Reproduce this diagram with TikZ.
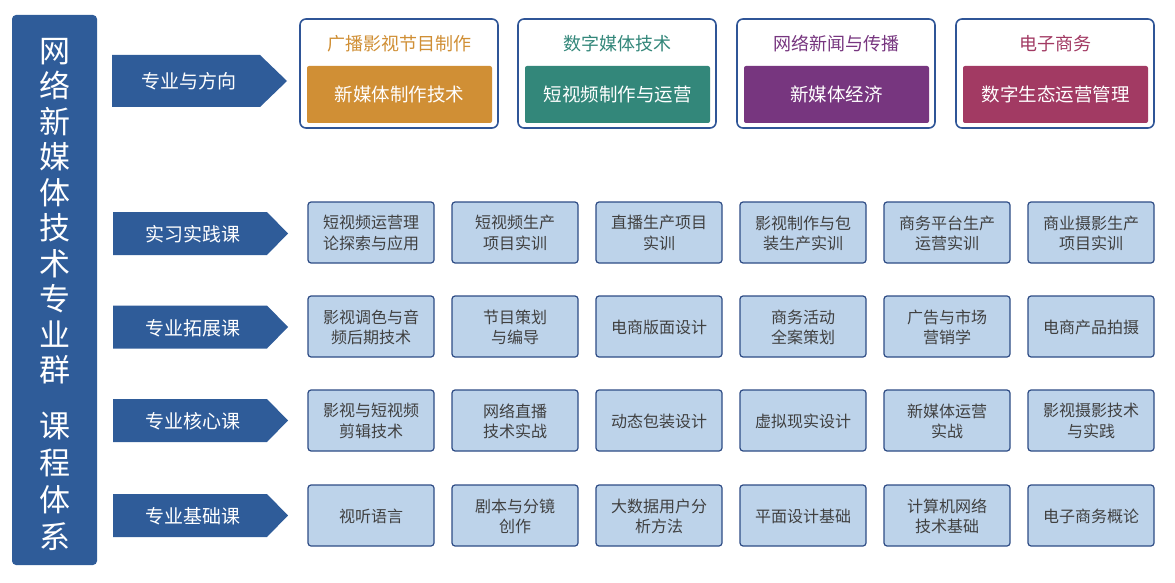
\documentclass[tikz,border=0pt]{standalone}
\usepackage{fontspec}
\setmainfont{Noto Sans CJK SC}
\definecolor{navy}{HTML}{2F5C99}
\definecolor{boxline}{HTML}{2F5597}
\definecolor{cfill}{HTML}{BDD3EA}
\definecolor{cline}{HTML}{2E4C85}
\definecolor{ctext}{HTML}{404040}
\definecolor{corange}{HTML}{D08F35}
\definecolor{cteal}{HTML}{33877A}
\definecolor{cpurple}{HTML}{77367F}
\definecolor{ccrimson}{HTML}{A23A63}
\tikzset{
  course/.style={draw=cline, line width=1.2pt, fill=cfill, rounded corners=3pt,
    minimum width=126pt, minimum height=61pt, align=center, text=ctext,
    font=\fontsize{16}{20.5}\selectfont, inner sep=0pt, text depth=0pt},
  outerbox/.style={draw=boxline, line width=1.6pt, fill=white, rounded corners=6pt,
    minimum width=198pt, minimum height=109pt, inner sep=0pt},
  innerbox/.style={rounded corners=2pt, minimum width=185pt, minimum height=57pt,
    text=white, font=\fontsize{18.5}{22}\selectfont, inner sep=0pt},
  titletext/.style={font=\fontsize{18}{22}\selectfont, inner sep=0pt},
  arrowlbl/.style={text=white, font=\fontsize{19}{22}\selectfont, inner sep=0pt},
  sidetext/.style={text=white, align=center, inner sep=0pt}
}
\begin{document}
\begin{tikzpicture}[x=1pt,y=-1pt]
\useasboundingbox (0,0) rectangle (1175,583);
% sidebar
\node[fill=navy, rounded corners=4pt, minimum width=85pt, minimum height=550pt, inner sep=0pt] (side) at (54.5,290) {};
\node[sidetext, font=\fontsize{31}{35.5}\selectfont, anchor=north] (sideA) at (54.5,38) {网\\络\\新\\媒\\体\\技\\术\\专\\业\\群};
\node[sidetext, font=\fontsize{31}{37}\selectfont, anchor=north] (sideB) at (54.5,412) {课\\程\\体\\系};
% top arrow
\fill[navy] (112,55) -- (260,55) -- (287,81) -- (260,107) -- (112,107) -- cycle;
\node[arrowlbl] (a0) at (189,81) {专业与方向};
% row arrows
\foreach \yy/\nm/\lbl in {233.5/a1/实习实践课, 327/a2/专业拓展课, 420.5/a3/专业核心课, 515.5/a4/专业基础课}{
  \fill[navy] (113,\yy-21.5) -- (267,\yy-21.5) -- (288,\yy) -- (267,\yy+21.5) -- (113,\yy+21.5) -- cycle;
  \node[arrowlbl] (\nm) at (193,\yy+1) {\lbl};
}
% top boxes
\foreach \xx/\nm/\col/\ttl/\inn in {
  399/m1/corange/广播影视节目制作/新媒体制作技术,
  617/m2/cteal/数字媒体技术/短视频制作与运营,
  836/m3/cpurple/网络新闻与传播/新媒体经济,
  1055/m4/ccrimson/电子商务/数字生态运营管理}{
  \node[outerbox] (\nm) at (\xx,73.5) {};
  \node[titletext, text=\col] (\nm t) at (\xx,43.5) {\ttl};
  \node[innerbox, fill=\col] (\nm i) at (\xx+0.5,94.5) {\inn};
}
% course boxes
\foreach \yy/\r/\la/\lb/\lc/\ld/\le/\lf in {
  232.5/1/{短视频运营理\\论探索与应用}/{短视频生产\\项目实训}/{直播生产项目\\实训}/{影视制作与包\\装生产实训}/{商务平台生产\\运营实训}/{商业摄影生产\\项目实训},
  326.5/2/{影视调色与音\\频后期技术}/{节目策划\\与编导}/{电商版面设计}/{商务活动\\全案策划}/{广告与市场\\营销学}/{电商产品拍摄},
  420.5/3/{影视与短视频\\剪辑技术}/{网络直播\\技术实战}/{动态包装设计}/{虚拟现实设计}/{新媒体运营\\实战}/{影视摄影技术\\与实践},
  515.5/4/{视听语言}/{剧本与分镜\\创作}/{大数据用户分\\析方法}/{平面设计基础}/{计算机网络\\技术基础}/{电子商务概论}}{
  \node[course] (c\r a) at (371,\yy) {\la};
  \node[course] (c\r b) at (515,\yy) {\lb};
  \node[course] (c\r c) at (659,\yy) {\lc};
  \node[course] (c\r d) at (803,\yy) {\ld};
  \node[course] (c\r e) at (947,\yy) {\le};
  \node[course] (c\r f) at (1091,\yy) {\lf};
}
\end{tikzpicture}
\end{document}
